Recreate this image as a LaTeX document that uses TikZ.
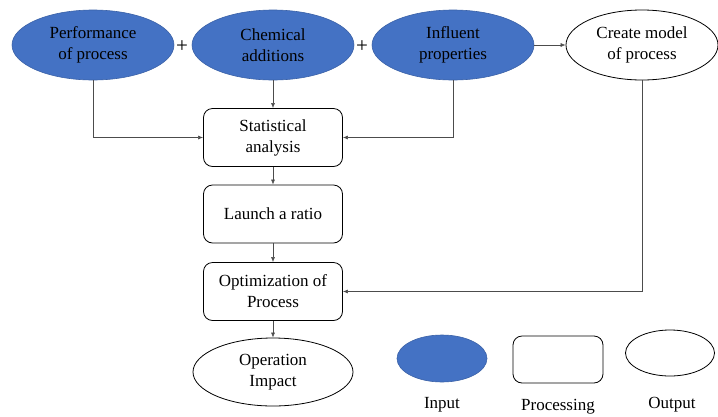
\documentclass[tikz,border=0pt]{standalone}
\usepackage{fontspec}
\setmainfont{Liberation Serif}
\usepackage{tikz}
\usetikzlibrary{shapes,arrows.meta}
\definecolor{inblue}{HTML}{4472C4}

\begin{document}
\begin{tikzpicture}[x=1pt,y=-1pt,font=\fontsize{17}{21}\selectfont,
  input/.style={shape=ellipse,fill=inblue,draw=inblue!85!black,line width=0.6pt,minimum width=162pt,minimum height=70pt,inner sep=0,align=center},
  output/.style={shape=ellipse,draw,fill=white,line width=0.8pt,minimum width=152pt,minimum height=70pt,inner sep=0,align=center},
  proc/.style={rectangle,rounded corners=9pt,draw,line width=0.8pt,minimum width=139pt,minimum height=58pt,align=center},
  plus/.style={font=\fontsize{21}{21}\selectfont,inner sep=0},
  conn/.style={draw=black!70,line width=0.6pt,-{Latex[length=5pt,width=4pt]}}]
\useasboundingbox (0,0) rectangle (718,416);

\node[input] (perf) at (93,45) {Performance\\of process};
\node[input] (chem) at (273,45) {Chemical\\additions};
\node[input] (infl) at (453,45) {Influent\\properties};
\node[output] (model) at (642,45) {Create model\\of process};
\node[plus] (plus1) at (182,47) {+};
\node[plus] (plus2) at (362,47) {+};

\node[proc] (stat) at (273,137.5) {Statistical\\analysis};
\node[proc] (ratio) at (273,214) {Launch a ratio};
\node[proc] (optim) at (273,291.5) {Optimization of\\Process};
\node[output,minimum width=160pt,minimum height=68pt] (impact) at (273,372) {Operation\\Impact};

% key
\node[input,minimum width=90pt,minimum height=47pt] (keyin) at (442,358.5) {};
\node[proc,minimum width=90pt,minimum height=47pt] (keyproc) at (558,359.5) {};
\node[output,minimum width=89pt,minimum height=46pt] (keyout) at (670,353) {};
\node (keyinlbl) at (442,405) {Input};
\node (keyproclbl) at (558,407) {Processing};
\node (keyoutlbl) at (672,405) {Output};

\draw[conn] (perf.south) |- (stat.west);
\draw[conn] (chem.south) -- (stat.north);
\draw[conn] (infl.south) |- (stat.east);
\draw[conn] (infl.east) -- (model.west);
\draw[conn] (model.south) |- (optim.east);
\foreach \a/\b in {stat/ratio,ratio/optim,optim/impact}
  \draw[conn] (\a.south) -- (\b.north);
\end{tikzpicture}
\end{document}
